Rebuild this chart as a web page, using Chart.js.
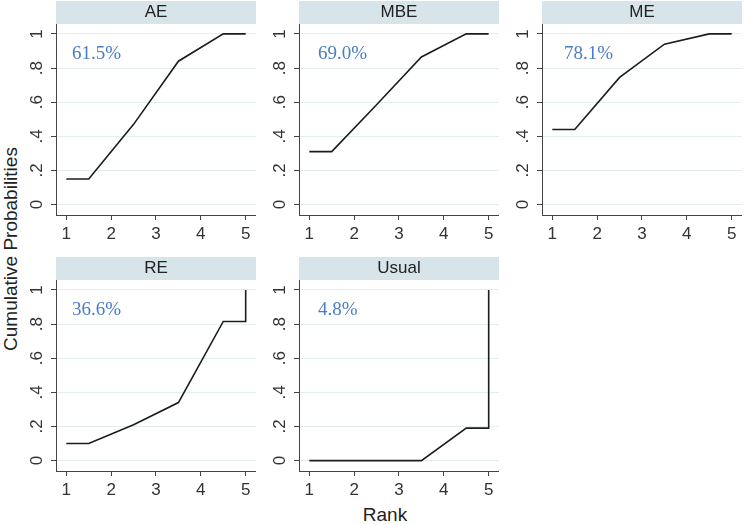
<!DOCTYPE html>
<html><head><meta charset="utf-8">
<script src="https://cdn.jsdelivr.net/npm/chart.js@4/dist/chart.umd.min.js"></script>
<style>
html,body{margin:0;padding:0;background:#fff;}
#wrap{position:relative;width:744px;height:524px;overflow:hidden;background:#fff;}
canvas{position:absolute;}
.axt{position:absolute;font-family:"Liberation Sans",Arial,sans-serif;font-size:19px;color:#222;white-space:nowrap;text-align:center;line-height:22px;}
</style></head><body>
<div id="wrap">
 <div class="axt" id="ylab" style="left:-139.5px;top:238px;width:300px;transform:rotate(-90deg);">Cumulative Probabilities</div>
 <div class="axt" id="xlab" style="left:335px;top:504px;width:100px;">Rank</div>
</div>
<script>
// ---- data ----
const panelNames = ['AE', 'MBE', 'ME', 'RE', 'Usual'];
const rankPoints = [1, 1.5, 2.5, 3.5, 4.5, 5, 5];
const cumAE    = [0.15, 0.15, 0.47, 0.84, 1.0, 1.0, 1.0];
const cumMBE   = [0.31, 0.31, 0.585, 0.865, 1.0, 1.0, 1.0];
const cumME    = [0.44, 0.44, 0.745, 0.94, 1.0, 1.0, 1.0];
const cumRE    = [0.10, 0.10, 0.21, 0.34, 0.815, 0.815, 1.0];
const cumUsual = [0, 0, 0, 0, 0.19, 0.19, 1.0];
const sucraLabels = ['61.5%', '69.0%', '78.1%', '36.6%', '4.8%'];
const xTickValues = [1, 2, 3, 4, 5];
const yTickValues = [0, 0.2, 0.4, 0.6, 0.8, 1];
const yTickLabels = ['0', '.2', '.4', '.6', '.8', '1'];

const seriesList = [cumAE, cumMBE, cumME, cumRE, cumUsual];

// ---- layout (pixels) ----
const panelPos = [
  {left: 56, top: 1, dx: 16}, {left: 299, top: 1, dx: 19}, {left: 542, top: 1, dx: 22},
  {left: 56, top: 257, dx: 16}, {left: 299, top: 257, dx: 19}
];
const AXW = 45, AXH = 30, PW = 200, STRIP = 23, PH = 191;
const SANS = '"Liberation Sans", Arial, sans-serif';

const stripPlugin = {
  id: 'strip',
  beforeDraw(chart) {
    const ca = chart.chartArea, tb = chart.titleBlock, ctx = chart.ctx;
    ctx.save();
    ctx.fillStyle = '#d7e4ea';
    ctx.fillRect(ca.left, tb.top, ca.right - ca.left, tb.bottom - tb.top);
    ctx.restore();
  }
};
const sucraPlugin = {
  id: 'sucraText',
  afterDatasetsDraw(chart, args, opts) {
    const ca = chart.chartArea, ctx = chart.ctx;
    ctx.save();
    ctx.font = '19px "Liberation Serif", "Times New Roman", serif';
    ctx.fillStyle = '#4a7cc7';
    ctx.textAlign = 'left';
    ctx.textBaseline = 'alphabetic';
    ctx.fillText(opts.text, ca.left + opts.dx, ca.top + 35);
    ctx.restore();
  }
};

const wrap = document.getElementById('wrap');
panelNames.forEach((name, i) => {
  const p = panelPos[i];
  const cv = document.createElement('canvas');
  const w = AXW + PW, h = STRIP + PH + AXH;
  cv.width = w; cv.height = h;
  cv.style.left = (p.left - AXW) + 'px';
  cv.style.top = p.top + 'px';
  cv.style.width = w + 'px'; cv.style.height = h + 'px';
  wrap.appendChild(cv);
  const vals = seriesList[i];
  new Chart(cv, {
    type: 'line',
    data: {
      datasets: [{
        data: rankPoints.map((x, k) => ({x: x, y: vals[k]})),
        borderColor: '#1c1c1c', borderWidth: 1.6, pointRadius: 0,
        fill: false, tension: 0
      }]
    },
    options: {
      responsive: false, animation: false, devicePixelRatio: 1,
      layout: {padding: 0},
      events: [],
      scales: {
        x: {
          type: 'linear', min: 0.77, max: 5.23,
          afterBuildTicks: s => { s.ticks = xTickValues.map(v => ({value: v})); },
          afterFit: s => { s.height = AXH; },
          ticks: {autoSkip: false, maxRotation: 0, padding: 4, color: '#333',
                  font: {family: SANS, size: 17}, callback: v => String(v)},
          grid: {drawOnChartArea: false, tickColor: '#444', tickLength: 5},
          border: {color: '#444', width: 1}
        },
        y: {
          type: 'linear', min: -0.061, max: 1.058,
          afterBuildTicks: s => { s.ticks = yTickValues.map(v => ({value: v})); },
          afterFit: s => { s.width = AXW; },
          ticks: {autoSkip: false, minRotation: 90, maxRotation: 90, crossAlign: 'center',
                  padding: 7, color: '#333', font: {family: SANS, size: 17},
                  callback: (v) => yTickLabels[yTickValues.indexOf(v)]},
          grid: {color: '#e4eef1', lineWidth: 1, tickColor: '#444', tickLength: 5},
          border: {color: '#444', width: 1}
        }
      },
      plugins: {
        legend: {display: false},
        tooltip: {enabled: false},
        title: {display: true, text: name, fullSize: false, color: '#222',
                font: {family: SANS, size: 17, weight: 'normal', lineHeight: '19px'},
                padding: {top: 2, bottom: 2}},
        sucraText: {text: sucraLabels[i], dx: p.dx}
      }
    },
    plugins: [stripPlugin, sucraPlugin]
  });
});
</script>
</body></html>
